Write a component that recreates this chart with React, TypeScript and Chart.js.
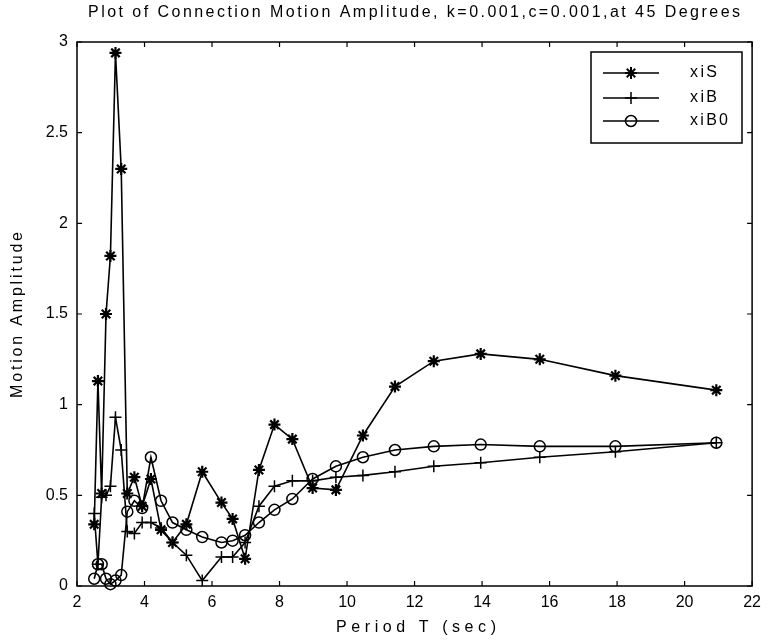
import React, { useEffect, useRef } from "react";
import { Chart, registerables } from "chart.js";
Chart.register(...registerables);

const periods = [2.51, 2.62, 2.73, 2.86, 2.99, 3.14, 3.31, 3.49, 3.70, 3.93, 4.19, 4.49, 4.83, 5.24, 5.71, 6.28, 6.61, 6.98, 7.39, 7.85, 8.38, 8.98, 9.67, 10.47, 11.42, 12.57, 13.96, 15.71, 17.95, 20.94];
const xiS = [0.34, 1.13, 0.51, 1.50, 1.82, 2.94, 2.30, 0.51, 0.60, 0.44, 0.59, 0.31, 0.24, 0.34, 0.63, 0.46, 0.37, 0.15, 0.64, 0.89, 0.81, 0.54, 0.53, 0.83, 1.10, 1.24, 1.28, 1.25, 1.16, 1.08];
const xiB = [0.40, 0.12, 0.49, 0.50, 0.55, 0.93, 0.75, 0.30, 0.29, 0.35, 0.35, 0.32, 0.24, 0.17, 0.03, 0.16, 0.16, 0.24, 0.44, 0.55, 0.58, 0.58, 0.60, 0.61, 0.63, 0.66, 0.68, 0.71, 0.74, 0.79];
const xiB0 = [0.04, 0.12, 0.12, 0.04, 0.01, 0.03, 0.06, 0.41, 0.47, 0.43, 0.71, 0.47, 0.35, 0.31, 0.27, 0.24, 0.25, 0.28, 0.35, 0.42, 0.48, 0.59, 0.66, 0.71, 0.75, 0.77, 0.78, 0.77, 0.77, 0.79];

const seriesNames = ["xiS", "xiB", "xiB0"];
const seriesStyles = ["star", "cross", "circle"];
const titleText = "Plot of Connection Motion Amplitude, k=0.001,c=0.001,at 45 Degrees";
const xTitle = "Period T (sec)";
const yTitle = "Motion Amplitude";

const FONT = '"Liberation Sans", Arial, Helvetica, sans-serif';

function drawSpaced(ctx: CanvasRenderingContext2D, text: string, cx: number, cy: number, target: number, alignLeft = false) {
  const chars = Array.from(text);
  const widths = chars.map((c) => ctx.measureText(c).width);
  const sum = widths.reduce((a, b) => a + b, 0);
  const sp = chars.length > 1 ? (target - sum) / (chars.length - 1) : 0;
  let x = alignLeft ? cx : cx - target / 2;
  ctx.textAlign = "left";
  ctx.textBaseline = "middle";
  chars.forEach((c, i) => {
    ctx.fillText(c, x, cy);
    x += widths[i] + sp;
  });
}

function drawMarker(ctx: CanvasRenderingContext2D, style: string, x: number, y: number) {
  ctx.beginPath();
  if (style === "circle") {
    ctx.arc(x, y, 5.5, 0, Math.PI * 2);
  } else if (style === "cross") {
    ctx.moveTo(x - 6, y); ctx.lineTo(x + 6, y);
    ctx.moveTo(x, y - 6); ctx.lineTo(x, y + 6);
  } else {
    const r = 6;
    ctx.moveTo(x - r, y); ctx.lineTo(x + r, y);
    ctx.moveTo(x, y - r); ctx.lineTo(x, y + r);
    const d = r * 0.7071;
    ctx.moveTo(x - d, y - d); ctx.lineTo(x + d, y + d);
    ctx.moveTo(x - d, y + d); ctx.lineTo(x + d, y - d);
  }
  ctx.stroke();
}

const framePlugin = {
  id: "frame",
  afterDraw(chart: any) {
    const ctx: CanvasRenderingContext2D = chart.ctx;
    const { left, right, top, bottom } = chart.chartArea;
    const xs = chart.scales.x;
    const ys = chart.scales.y;
    ctx.save();
    ctx.strokeStyle = "#000";
    ctx.lineWidth = 1.5;
    ctx.strokeRect(left, top, right - left, bottom - top);
    ctx.lineWidth = 1.2;
    ctx.beginPath();
    xs.ticks.forEach((t: any) => {
      const px = xs.getPixelForValue(t.value);
      ctx.moveTo(px, bottom); ctx.lineTo(px, bottom - 5);
      ctx.moveTo(px, top); ctx.lineTo(px, top + 5);
    });
    ys.ticks.forEach((t: any) => {
      const py = ys.getPixelForValue(t.value);
      ctx.moveTo(left, py); ctx.lineTo(left + 5, py);
      ctx.moveTo(right, py); ctx.lineTo(right - 5, py);
    });
    ctx.stroke();

    // title & axis titles
    ctx.fillStyle = "#000";
    ctx.font = `16px ${FONT}`;
    drawSpaced(ctx, titleText, 414, 13, 652);
    ctx.font = `16px ${FONT}`;
    drawSpaced(ctx, xTitle, 416, 628, 160);
    ctx.save();
    ctx.translate(18, 315);
    ctx.rotate(-Math.PI / 2);
    drawSpaced(ctx, yTitle, 0, 0, 166);
    ctx.restore();

    // legend
    const bx = 591, by = 52, bw = 151, bh = 91;
    ctx.fillStyle = "#fff";
    ctx.fillRect(bx, by, bw, bh);
    ctx.lineWidth = 1.5;
    ctx.strokeStyle = "#000";
    ctx.strokeRect(bx, by, bw, bh);
    const rows = [73, 98, 121];
    ctx.font = `16px ${FONT}`;
    ctx.fillStyle = "#000";
    seriesNames.forEach((name, i) => {
      const y = rows[i];
      ctx.lineWidth = 1.5;
      ctx.beginPath();
      ctx.moveTo(603, y); ctx.lineTo(659, y);
      ctx.stroke();
      ctx.lineWidth = seriesStyles[i] === "star" ? 2 : 1.5;
      drawMarker(ctx, seriesStyles[i], 631, y);
      const w = name.length === 4 ? 38 : 27;
      drawSpaced(ctx, name, 690, y, w, true);
    });
    ctx.restore();
  },
};

export default function App() {
  const ref = useRef<HTMLCanvasElement>(null);
  useEffect(() => {
    document.body.style.margin = "0";
    const values = [xiS, xiB, xiB0];
    const chart = new Chart(ref.current!, {
      type: "line",
      data: {
        datasets: seriesNames.map((name, i) => ({
          label: name,
          data: periods.map((p, j) => ({ x: p, y: values[i][j] })),
          borderColor: "#000",
          borderWidth: 1.6,
          pointStyle: seriesStyles[i] as any,
          pointRadius: seriesStyles[i] === "star" ? 6 : seriesStyles[i] === "cross" ? 6 : 5.5,
          pointBorderWidth: seriesStyles[i] === "star" ? 2.2 : 1.5,
          pointBorderColor: "#000",
          pointBackgroundColor: "rgba(0,0,0,0)",
          tension: 0,
          fill: false,
        })),
      },
      plugins: [framePlugin],
      options: {
        responsive: false,
        animation: false,
        clip: false as any,
        layout: { padding: { top: 42, right: 12, left: 0, bottom: 0 } },
        plugins: {
          legend: { display: false },
          title: { display: false },
          tooltip: { enabled: false },
        },
        scales: {
          x: {
            type: "linear",
            min: 2,
            max: 22,
            ticks: { stepSize: 2, color: "#000", font: { size: 16, family: FONT }, padding: 7 },
            grid: { display: false, drawTicks: false, tickLength: 0 },
            border: { display: false },
            afterFit: (s: any) => { s.height = 56; },
          },
          y: {
            type: "linear",
            min: 0,
            max: 3,
            ticks: {
              stepSize: 0.5,
              color: "#000",
              font: { size: 16, family: FONT },
              padding: 9,
              callback: (v: any) => String(Number(v)),
            },
            grid: { display: false, drawTicks: false, tickLength: 0 },
            border: { display: false },
            afterFit: (s: any) => { s.width = 77; },
          },
        },
      },
    });
    return () => chart.destroy();
  }, []);
  return <canvas ref={ref} width={768} height={642} style={{ display: "block" }} />;
}
